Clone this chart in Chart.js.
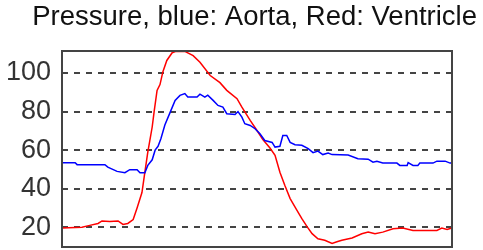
<!DOCTYPE html>
<html>
<head>
<meta charset="utf-8">
<script src="https://cdn.jsdelivr.net/npm/chart.js@4/dist/chart.umd.min.js"></script>
<style>
html,body{margin:0;padding:0;background:#fff;}
#wrap{width:483px;height:250px;}
</style>
</head>
<body>
<div id="wrap"><canvas id="c" width="483" height="250"></canvas></div>
<script>
// time within the cycle (ms) and pressure readings
const ventricleTime = [0,41,57,74,82,98,115,125,135,146,154,164,170,176,185,189,195,201,207,215,226,234,252,269,283,304,324,338,359,369,386,400,412,427,437,447,457,468,482,492,503,513,525,539,554,564,574,595,615,628,642,658,679,699,720,769,779,790,800];
const ventricle = [19.6,20,21,22,23.3,23,23.3,21.5,22,24,30,38,48.6,59,72,80,91,94,100.7,106.5,110.5,111.2,111.2,109,105.6,98.7,95,91,86.7,82.3,75.4,70.2,65.5,61,57.3,48.6,41.8,34.9,28.8,24.5,20.2,16.7,14.1,13.3,11.6,12.5,13.3,14.5,16.7,17.6,16.7,17.5,19.3,19.6,18.4,18.4,19.6,18.9,19.6];
const aortaTime = [0,27,31,88,94,113,129,139,154,160,170,176,185,191,197,203,211,222,232,242,252,258,277,283,293,299,310,320,330,338,355,361,369,375,386,396,406,416,431,437,447,453,461,468,478,492,505,515,525,535,546,554,587,607,628,638,646,658,687,693,708,710,720,730,734,761,769,786,796,800];
const aorta = [53.5,53.5,52.5,52.5,51.2,49,48.3,49.9,49.9,48.3,48.3,52.1,55,60,62,66,73,79.7,85.8,88.4,89.3,87.5,87.5,89,87.5,88.5,85.8,83.2,82.3,78.9,78.5,80,77.1,73.7,72.8,71.1,68.5,65,64,61.6,62,67.6,67.6,64,62.8,62.5,60.8,58.7,59.5,57.7,58.5,57.7,57.5,55.6,55.3,53.8,54.2,53.3,53.3,52.1,52.1,53.5,52.1,52.1,53.3,53.3,54.3,54.3,53.3,53.3];
const yTicks = [20,40,60,80,100];
const titleText = 'Pressure, blue: Aorta, Red: Ventricle';

const toXY = (xs, ys) => xs.map((x, i) => ({x: x, y: ys[i]}));

const frame = {
  id: 'frame',
  afterDraw(chart) {
    const a = chart.chartArea, ctx = chart.ctx;
    ctx.save();
    ctx.strokeStyle = '#444';
    ctx.lineWidth = 2;
    ctx.strokeRect(a.left, a.top, a.right - a.left, a.bottom - a.top);
    ctx.restore();
  }
};

new Chart(document.getElementById('c'), {
  type: 'line',
  data: {
    datasets: [
      {label: 'Aorta', data: toXY(aortaTime, aorta), borderColor: '#0000ff', borderWidth: 1.5, pointRadius: 0, tension: 0},
      {label: 'Ventricle', data: toXY(ventricleTime, ventricle), borderColor: '#ff0000', borderWidth: 1.5, pointRadius: 0, tension: 0}
    ]
  },
  options: {
    responsive: false,
    animation: false,
    devicePixelRatio: 1,
    layout: {padding: {left: 6, right: 6, top: 0, bottom: 3}},
    plugins: {
      legend: {display: false},
      tooltip: {enabled: false},
      title: {
        display: true,
        align: 'end',
        text: titleText,
        color: '#111',
        font: {family: 'Liberation Sans, Arial, sans-serif', size: 27.5, weight: 'normal'},
        padding: {top: 1, bottom: 17}
      }
    },
    scales: {
      x: {type: 'linear', min: 0, max: 800, display: false},
      y: {
        type: 'linear', min: 9.8, max: 111.4,
        afterBuildTicks: s => { s.ticks = yTicks.map(v => ({value: v})); },
        afterFit: s => { s.width = 56; s.paddingTop = 0; s.paddingBottom = 0; },
        ticks: {padding: 11, color: '#333', font: {family: 'Liberation Sans, Arial, sans-serif', size: 27}},
        grid: {color: '#444', lineWidth: 2, drawTicks: false},
        border: {display: false, dash: [6, 6]}
      },
      y2: {
        type: 'linear', position: 'right', min: 0, max: 1,
        afterFit: s => { s.width = 25; s.paddingTop = 0; s.paddingBottom = 0; },
        ticks: {display: false},
        grid: {display: false, drawTicks: false},
        border: {display: false}
      }
    }
  },
  plugins: [frame]
});
</script>
</body>
</html>
